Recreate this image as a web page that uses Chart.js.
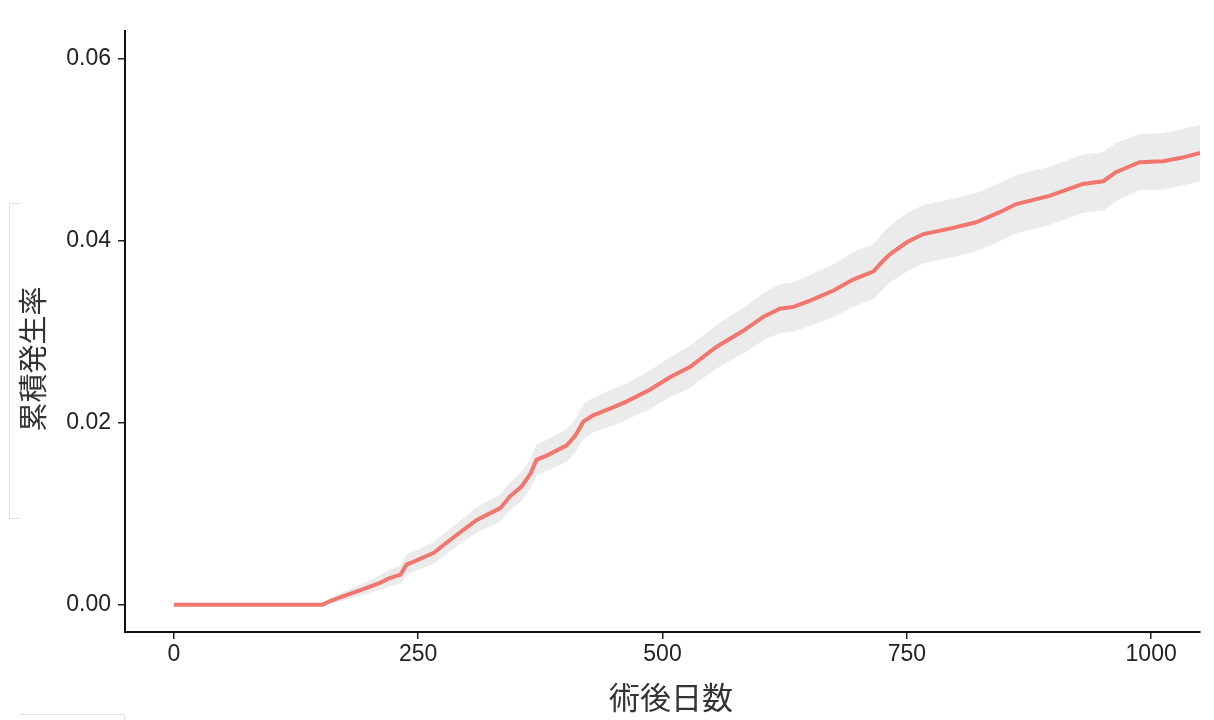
<!DOCTYPE html>
<html lang="ja">
<head>
    <meta charset="UTF-8">
    <title>累積発生率</title>
    <script src="https://cdn.jsdelivr.net/npm/chart.js"></script>
    <style>
        body { margin: 0; background: #fff; }
        .wrapper { width: 1214px; height: 720px; }
    </style>
</head>
<body>
    <div class="wrapper">
        <canvas id="cumIncChart" width="1214" height="720"></canvas>
    </div>

    <script>
        // 術後日数 (days after surgery) and cumulative incidence
        const days = [0, 152, 160, 175, 191, 211, 220, 232, 238, 245, 266, 279, 296, 310, 334, 344, 356, 365, 371, 382,
            402, 411, 419, 429, 450, 463, 487, 508, 528, 555, 583, 603, 620, 634, 651, 675, 695, 716, 726, 733,
            750, 767, 794, 821, 845, 862, 896, 930, 951, 964, 988, 1012, 1032, 1050];
        const cumInc = [0, 0, 0.0004, 0.0010, 0.0016, 0.0024, 0.0029, 0.0033, 0.0044, 0.0047, 0.0057, 0.0068, 0.0082, 0.0093, 0.0106, 0.0119, 0.0130, 0.0144, 0.0159, 0.0164,
            0.0175, 0.0186, 0.0201, 0.0208, 0.0217, 0.0223, 0.0236, 0.0250, 0.0261, 0.0283, 0.0301, 0.0316, 0.0325, 0.0327, 0.0334, 0.0345, 0.0357, 0.0366, 0.0378, 0.0385,
            0.0398, 0.0407, 0.0413, 0.0420, 0.0431, 0.0440, 0.0449, 0.0462, 0.0465, 0.0475, 0.0486, 0.0487, 0.0491, 0.0496];
        const ciLower = [0, 0, 0.0001, 0.0005, 0.0010, 0.0016, 0.0020, 0.0023, 0.0033, 0.0036, 0.0045, 0.0056, 0.0069, 0.0079, 0.0091, 0.0104, 0.0114, 0.0128, 0.0142, 0.0147,
            0.0157, 0.0168, 0.0182, 0.0189, 0.0197, 0.0203, 0.0215, 0.0228, 0.0238, 0.0259, 0.0276, 0.0290, 0.0298, 0.0300, 0.0306, 0.0316, 0.0327, 0.0336, 0.0347, 0.0354,
            0.0366, 0.0375, 0.0381, 0.0388, 0.0399, 0.0408, 0.0417, 0.0430, 0.0433, 0.0443, 0.0455, 0.0456, 0.0460, 0.0465];
        const ciUpper = [0, 0, 0.0007, 0.0015, 0.0022, 0.0032, 0.0038, 0.0043, 0.0055, 0.0058, 0.0069, 0.0080, 0.0095, 0.0107, 0.0121, 0.0134, 0.0146, 0.0160, 0.0176, 0.0181,
            0.0193, 0.0204, 0.0220, 0.0227, 0.0237, 0.0243, 0.0257, 0.0272, 0.0284, 0.0307, 0.0326, 0.0342, 0.0352, 0.0354, 0.0362, 0.0374, 0.0387, 0.0396, 0.0409, 0.0416,
            0.0430, 0.0439, 0.0445, 0.0452, 0.0463, 0.0472, 0.0481, 0.0494, 0.0497, 0.0507, 0.0517, 0.0518, 0.0522, 0.0527];
        const xTicks = [0, 250, 500, 750, 1000];
        const yTicks = [0, 0.02, 0.04, 0.06];

        const toPoints = ys => days.map((d, i) => ({ x: d, y: ys[i] }));

        // axis titles drawn by hand so they sit where the original has them
        const titlesPlugin = {
            id: 'titles',
            afterDraw(chart) {
                const ctx = chart.ctx;
                ctx.save();
                ctx.fillStyle = '#333';
                ctx.textAlign = 'center';
                ctx.textBaseline = 'middle';
                ctx.font = '31px "Noto Sans CJK JP"';
                ctx.fillText('術後日数', 671, 697);
                ctx.translate(33, 359);
                ctx.rotate(-Math.PI / 2);
                ctx.font = '29px "Noto Sans CJK JP"';
                ctx.fillText('累積発生率', 0, 0);
                ctx.restore();

                // faint frame leftovers of the original screenshot
                ctx.save();
                ctx.strokeStyle = '#e2e2e2';
                ctx.lineWidth = 1;
                ctx.beginPath();
                ctx.moveTo(19.5, 203.5); ctx.lineTo(9.5, 203.5); ctx.lineTo(9.5, 518.5); ctx.lineTo(19.5, 518.5);
                ctx.moveTo(20, 714.5); ctx.lineTo(124.5, 714.5); ctx.lineTo(124.5, 720);
                ctx.stroke();
                ctx.restore();
            }
        };

        const ctx = document.getElementById('cumIncChart').getContext('2d');
        new Chart(ctx, {
            type: 'line',
            data: {
                datasets: [
                    {
                        label: 'upper',
                        data: toPoints(ciUpper),
                        borderWidth: 0,
                        backgroundColor: '#EBEBEB',
                        fill: '+1',
                        pointRadius: 0,
                        order: 2
                    },
                    {
                        label: 'lower',
                        data: toPoints(ciLower),
                        borderWidth: 0,
                        fill: false,
                        pointRadius: 0,
                        order: 2
                    },
                    {
                        label: '累積発生率',
                        data: toPoints(cumInc),
                        borderColor: '#F0766E',
                        borderWidth: 4,
                        fill: false,
                        pointRadius: 0,
                        order: 0
                    }
                ]
            },
            options: {
                responsive: false,
                animation: false,
                layout: { padding: { top: 31, right: 14, left: 0, bottom: 0 } },
                plugins: {
                    legend: { display: false },
                    tooltip: { enabled: false }
                },
                scales: {
                    x: {
                        type: 'linear',
                        min: -50,
                        max: 1050,
                        afterBuildTicks: scale => { scale.ticks = xTicks.map(v => ({ value: v })); },
                        afterFit: scale => { scale.height = 88; },
                        border: { display: true, color: '#111', width: 2 },
                        grid: { drawOnChartArea: false, drawTicks: true, tickLength: 7, color: '#222', lineWidth: 1.5 },
                        ticks: {
                            color: '#222',
                            padding: 2,
                            maxRotation: 0,
                            callback: v => String(v),
                            font: { family: '"Liberation Sans", Arial, sans-serif', size: 23 }
                        }
                    },
                    y: {
                        type: 'linear',
                        min: -0.003,
                        max: 0.063,
                        afterBuildTicks: scale => { scale.ticks = yTicks.map(v => ({ value: v })); },
                        afterFit: scale => { scale.width = 125; },
                        border: { display: true, color: '#111', width: 2 },
                        grid: { drawOnChartArea: false, drawTicks: true, tickLength: 7, color: '#222', lineWidth: 1.5 },
                        ticks: {
                            color: '#222',
                            padding: 7,
                            callback: v => v.toFixed(2),
                            font: { family: '"Liberation Sans", Arial, sans-serif', size: 23 }
                        }
                    }
                }
            },
            plugins: [titlesPlugin]
        });
    </script>
</body>
</html>
